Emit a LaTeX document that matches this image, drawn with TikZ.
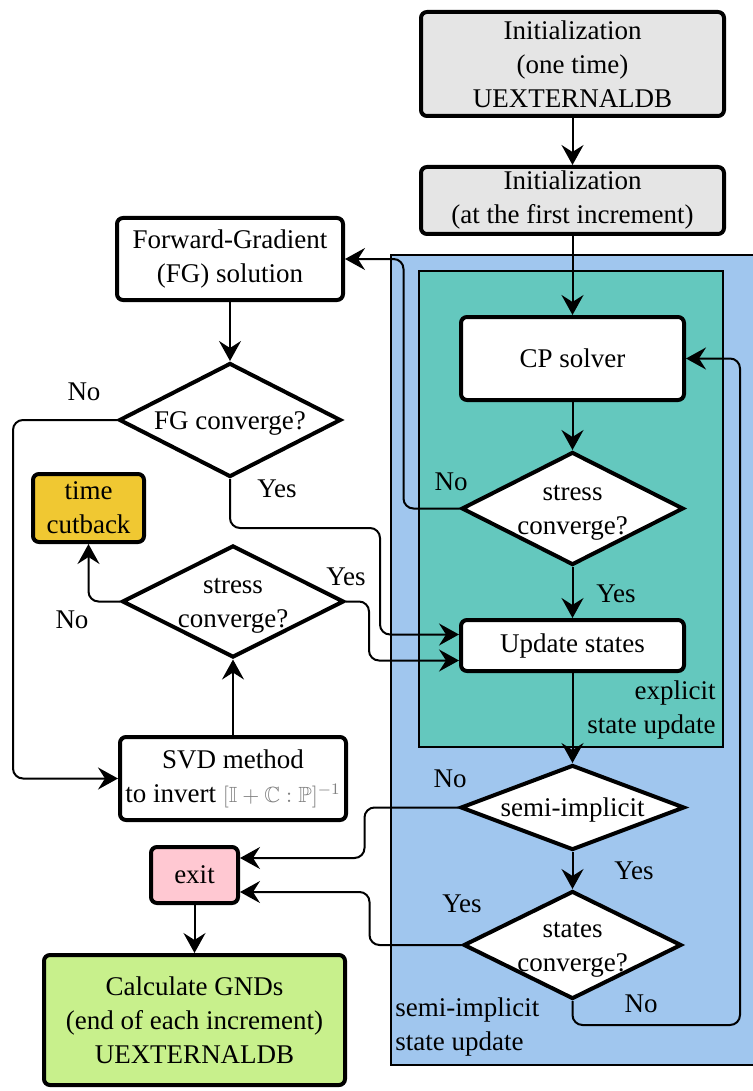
\documentclass[tikz,border=0pt]{standalone}
\usepackage{amssymb}
\usepackage{fontspec}
\setmainfont{LiberationSerif}[Extension=.ttf, UprightFont=*-Regular, BoldFont=*-Bold, ItalicFont=*-Italic]
\usetikzlibrary{arrows.meta}
\usetikzlibrary{shapes.geometric}

\definecolor{outerblue}{RGB}{160,198,238}
\definecolor{innerteal}{RGB}{100,200,190}
\definecolor{initgray}{RGB}{229,229,229}
\definecolor{cutyellow}{RGB}{240,200,50}
\definecolor{exitpink}{RGB}{255,200,210}
\definecolor{gndgreen}{RGB}{200,240,140}

\tikzset{
  box/.style={draw, line width=2pt, rounded corners=3pt, align=center, inner sep=0pt, fill=white},
  decision/.style={draw, diamond, line width=2pt, fill=white, inner sep=0pt},
  flow/.style={line width=1pt, rounded corners=5pt, -{Stealth[length=10pt,width=11pt,inset=3.5pt]}},
  answer/.style={inner sep=0pt}
}
\newcommand{\dtxt}[1]{\smash{\makebox[0pt]{\raisebox{-0.36em}{\begin{tabular}{@{}c@{}}#1\end{tabular}}}}}

\begin{document}
\begin{tikzpicture}[x=0.5pt, y=-0.5pt, font=\fontsize{13.5}{17}\selectfont]
\useasboundingbox (0,0) rectangle (753,1091);

\draw[fill=outerblue, line width=0.75pt] (391,255) rectangle (760,1065);
\draw[fill=innerteal, line width=0.75pt] (419,271) rectangle (723,747);

\node[box, fill=initgray, minimum width=151.5pt, minimum height=52pt] (InitOnce) at (572.5,64)
  {Initialization\\(one time)\\UEXTERNALDB};
\node[box, fill=initgray, minimum width=151.5pt, minimum height=33.5pt] (InitIncr) at (572.5,200.5)
  {Initialization\\(at the first increment)};
\node[box, minimum width=111.5pt, minimum height=41.5pt] (CPsolver) at (572.5,358.5) {CP solver};
\node[decision, minimum width=111pt, minimum height=56.5pt] (StressConv) at (572.5,508.5)
  {\dtxt{stress\\converge?}};
\node[box, minimum width=111.5pt, minimum height=25.5pt] (Update) at (572.5,645.5) {Update states};
\node[decision, minimum width=112pt, minimum height=42.5pt] (SemiImp) at (572.5,807.5)
  {\dtxt{semi-implicit}};
\node[decision, minimum width=109pt, minimum height=54pt] (StatesConv) at (572.5,945)
  {\dtxt{states\\converge?}};

\node[box, minimum width=113pt, minimum height=41pt] (FGsol) at (230,259)
  {Forward-Gradient\\(FG) solution};
\node[decision, minimum width=111pt, minimum height=57pt] (FGconv) at (230,420)
  {\dtxt{FG converge?}};
\node[box, fill=cutyellow, minimum width=55.5pt, minimum height=34pt] (TimeCut) at (88.5,508)
  {time\\cutback};
\node[decision, minimum width=111pt, minimum height=56pt] (StressLeft) at (233,601.5)
  {\dtxt{stress\\converge?}};
\node[box, minimum width=113pt, minimum height=41.5pt] (SVD) at (233,778.5)
  {SVD method\\to invert {\fontsize{11}{13}\selectfont\textcolor{gray}{$[\mathbb{I}+\mathbb{C}:\mathbb{P}]^{-1}$}}};
\node[box, fill=exitpink, minimum width=43.5pt, minimum height=28pt] (Exit) at (194.5,875) {exit};
\node[box, fill=gndgreen, minimum width=150.5pt, minimum height=65pt] (GND) at (194.5,1020)
  {Calculate GNDs\\(end of each increment)\\UEXTERNALDB};

\node[align=right, anchor=east, inner sep=0pt] (ExplicitLbl) at (716,710) {explicit\\state update};
\node[align=left, anchor=west, inner sep=0pt] (SemiLbl) at (395,1027) {semi-implicit\\state update};

\node[answer] (NoA) at (451,482) {No};
\node[answer] (YesA) at (616,594) {Yes};
\node[answer] (NoB) at (84,392) {No};
\node[answer] (YesB) at (277,489) {Yes};
\node[answer] (YesC) at (346,577) {Yes};
\node[answer] (NoC) at (72,620) {No};
\node[answer] (NoD) at (450,779) {No};
\node[answer] (YesD) at (634,871) {Yes};
\node[answer] (YesE) at (462,904) {Yes};
\node[answer] (NoE) at (641,1004) {No};

\draw[flow] (InitOnce) -- (InitIncr);
\draw[flow] (InitIncr) -- (CPsolver);
\draw[flow] (CPsolver) -- (StressConv);
\draw[flow] (StressConv) -- (Update);
\draw[flow] (StressConv.west) -- ++(-56,0) |- (FGsol.east);
\draw[flow] (FGsol) -- (FGconv);
\draw[flow] (FGconv.south) |- (380,528) |- ([yshift=5.5pt]Update.west);
\draw[flow] (FGconv.west) -- ++(-104,0) |- (SVD.west);
\draw[flow] (SVD) -- (StressLeft);
\draw[flow] (StressLeft.west) -| (TimeCut.south);
\draw[flow] (StressLeft.east) -- ++(23,0) |- ([yshift=-7.5pt]Update.west);
\draw[flow] (Update) -- (SemiImp);
\draw[flow] (SemiImp) -- (StatesConv);
\draw[flow] (SemiImp.west) -- ++(-94,0) |- ([yshift=8.5pt]Exit.east);
\draw[flow] (StatesConv.west) -- ++(-92,0) |- ([yshift=-8.5pt]Exit.east);
\draw[flow] (StatesConv.south) |- (740,1025) |- (CPsolver.east);
\draw[flow] (Exit) -- (GND);

\end{tikzpicture}
\end{document}
